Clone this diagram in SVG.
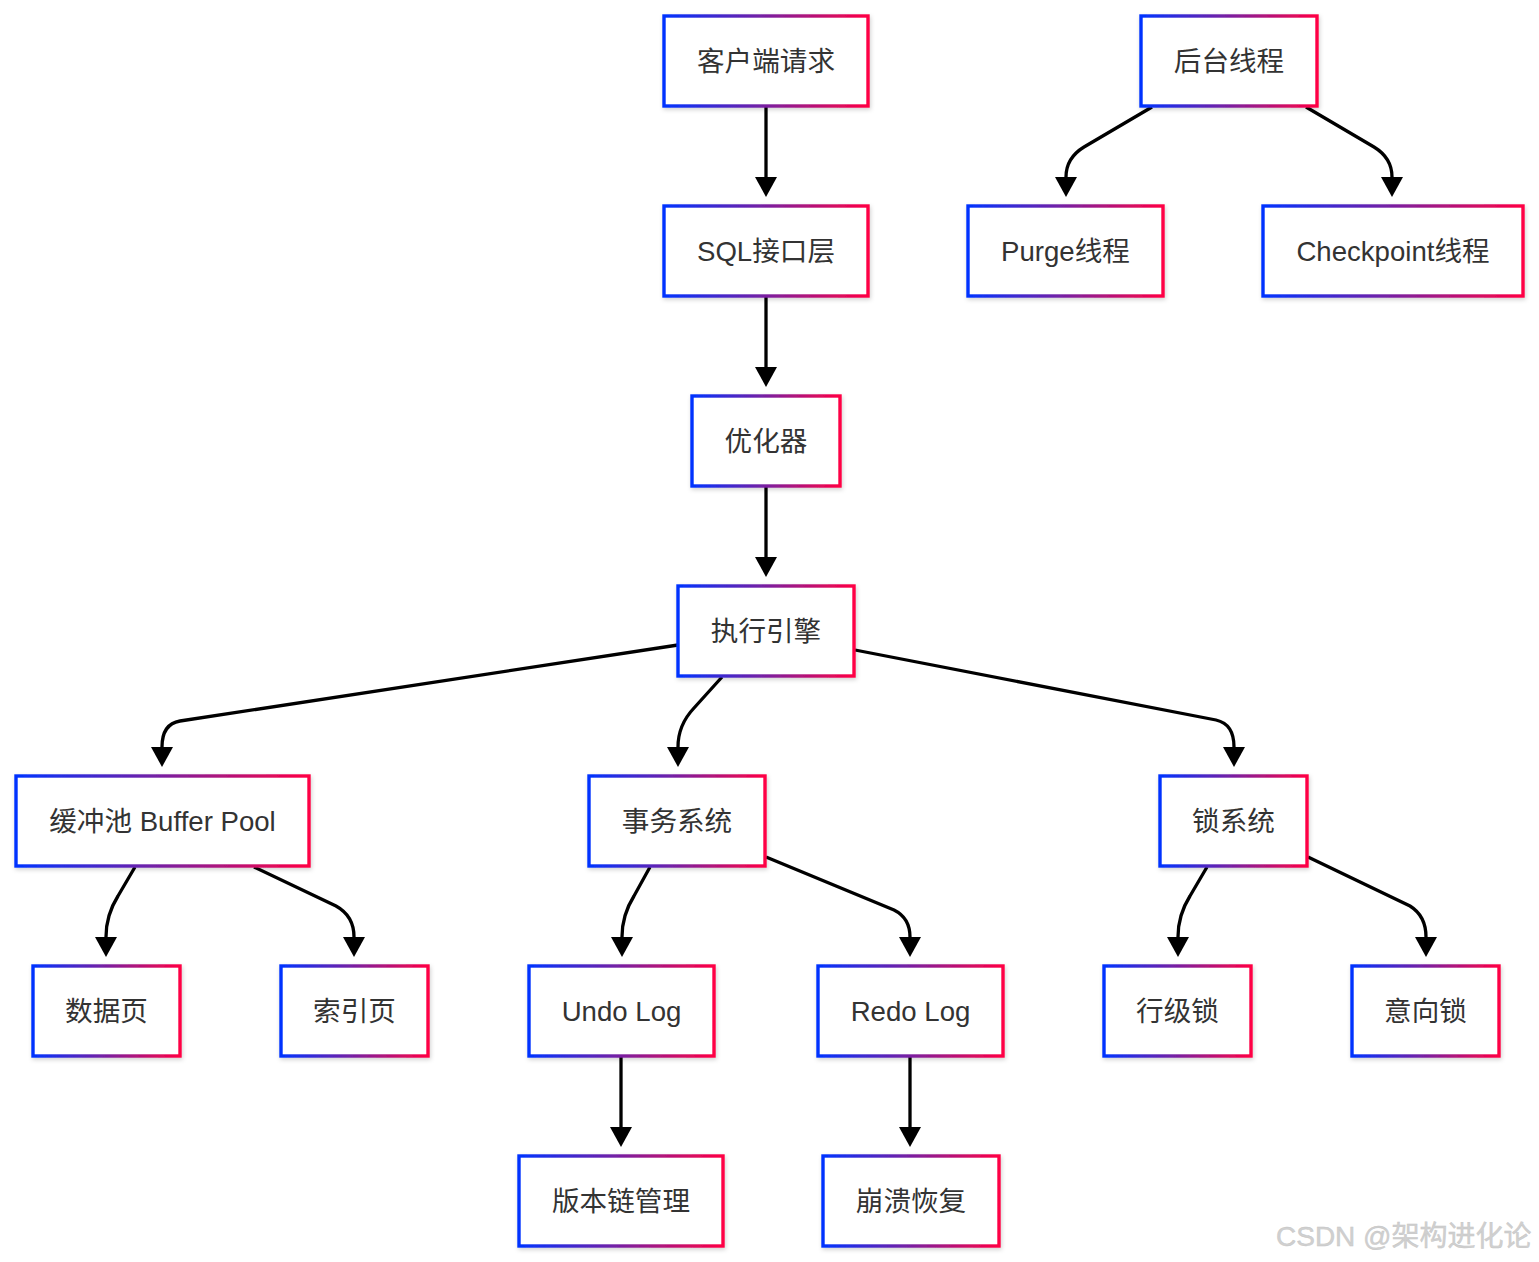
<svg xmlns="http://www.w3.org/2000/svg" width="1539" height="1262" viewBox="0 0 1539 1262">
<defs>
<linearGradient id="g" x1="0" y1="0" x2="1" y2="0">
<stop offset="0" stop-color="#0033ff"/>
<stop offset="0.5" stop-color="#7a1fa0"/>
<stop offset="1" stop-color="#ff0044"/>
</linearGradient>
<filter id="sh" x="-10%" y="-10%" width="120%" height="130%">
<feDropShadow dx="1" dy="2" stdDeviation="2" flood-color="#000" flood-opacity="0.18"/>
</filter>
<marker id="ah" viewBox="0 0 10 10" refX="0" refY="5" markerWidth="20" markerHeight="22" markerUnits="userSpaceOnUse" orient="auto" preserveAspectRatio="none">
<path d="M0,0 L10,5 L0,10 z" fill="#000"/>
</marker>
</defs>
<style>
.n rect{fill:#fff;stroke:url(#g);stroke-width:3.4;filter:url(#sh)}
.n text{font-family:"Liberation Sans","Noto Sans CJK SC",sans-serif;font-size:27.6px;fill:#333;text-anchor:middle;dominant-baseline:central}
#edges path{fill:none;stroke:#000;stroke-width:3.3;marker-end:url(#ah)}
.wm{font-family:"Liberation Sans","Noto Sans CJK SC",sans-serif;font-size:28px;fill:#d0d0d0;stroke:#c4c4c4;stroke-width:0.4}
</style>
<rect width="1539" height="1262" fill="#fff"/>
<g id="edges">
<path d="M766,106 L766,177"/>
<path d="M766,296 L766,367"/>
<path d="M766,486 L766,557"/>
<path d="M1152,107 L1084,147 Q1066,158 1066,177"/>
<path d="M1306,107 L1374,147 Q1392,158 1392,177"/>
<path d="M678,645 L180,721 Q162,724 162,747"/>
<path d="M722,677 L694,708 Q678,725 678,747"/>
<path d="M855,650 L1216,720 Q1234,724 1234,747"/>
<path d="M135,867 L118,896 Q106,915 106,937"/>
<path d="M254,867 L336,906 Q354,916 354,937"/>
<path d="M650,867 L634,896 Q622,915 622,937"/>
<path d="M766,857 L894,910 Q910,918 910,937"/>
<path d="M1207,867 L1190,896 Q1178,915 1178,937"/>
<path d="M1308,857 L1410,906 Q1426,916 1426,937"/>
<path d="M621,1056 L621,1127"/>
<path d="M910,1056 L910,1127"/>
</g>
<g id="n1" class="n"><rect x="664" y="16" width="204" height="90"/><text x="766" y="61">客户端请求</text></g>
<g id="n2" class="n"><rect x="664" y="206" width="204" height="90"/><text x="766" y="251">SQL接口层</text></g>
<g id="n3" class="n"><rect x="692" y="396" width="148" height="90"/><text x="766" y="441">优化器</text></g>
<g id="n4" class="n"><rect x="678" y="586" width="176" height="90"/><text x="766" y="631">执行引擎</text></g>
<g id="n5" class="n"><rect x="1141" y="16" width="176" height="90"/><text x="1229" y="61">后台线程</text></g>
<g id="n6" class="n"><rect x="968" y="206" width="195" height="90"/><text x="1065.5" y="251">Purge线程</text></g>
<g id="n7" class="n"><rect x="1263" y="206" width="260" height="90"/><text x="1393" y="251">Checkpoint线程</text></g>
<g id="n8" class="n"><rect x="16" y="776" width="293" height="90"/><text x="162.5" y="821">缓冲池 Buffer Pool</text></g>
<g id="n9" class="n"><rect x="589" y="776" width="176" height="90"/><text x="677" y="821">事务系统</text></g>
<g id="n10" class="n"><rect x="1160" y="776" width="147" height="90"/><text x="1233.5" y="821">锁系统</text></g>
<g id="n11" class="n"><rect x="33" y="966" width="147" height="90"/><text x="106.5" y="1011">数据页</text></g>
<g id="n12" class="n"><rect x="281" y="966" width="147" height="90"/><text x="354.5" y="1011">索引页</text></g>
<g id="n13" class="n"><rect x="529" y="966" width="185" height="90"/><text x="621.5" y="1011">Undo Log</text></g>
<g id="n14" class="n"><rect x="818" y="966" width="185" height="90"/><text x="910.5" y="1011">Redo Log</text></g>
<g id="n15" class="n"><rect x="1104" y="966" width="147" height="90"/><text x="1177.5" y="1011">行级锁</text></g>
<g id="n16" class="n"><rect x="1352" y="966" width="147" height="90"/><text x="1425.5" y="1011">意向锁</text></g>
<g id="n17" class="n"><rect x="519" y="1156" width="204" height="90"/><text x="621" y="1201">版本链管理</text></g>
<g id="n18" class="n"><rect x="823" y="1156" width="176" height="90"/><text x="911" y="1201">崩溃恢复</text></g>
<text class="wm" x="1276" y="1246">CSDN @架构进化论</text>
</svg>
